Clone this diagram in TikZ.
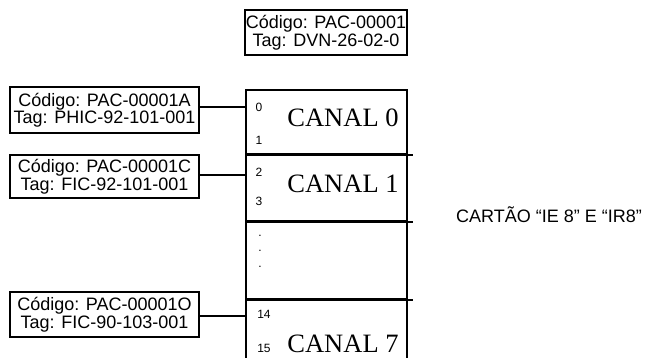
\documentclass[tikz,border=0pt]{standalone}
\usepackage{fontspec}
\setmainfont{Liberation Sans}
\newfontfamily\serifff{Liberation Serif}
\begin{document}
\begin{tikzpicture}[x=1pt,y=-1pt,
  tagbox/.style={draw,line width=2pt,inner sep=0pt,align=center,
    font=\fontsize{18}{17.5}\selectfont},
  cell/.style={draw,line width=2pt,inner sep=0pt,minimum width=161pt},
  canal/.style={font=\serifff\fontsize{26.5}{26.5}\selectfont,inner sep=0pt},
  num/.style={font=\fontsize{12}{12}\selectfont,inner sep=0pt},
  wire/.style={line width=2pt}]
\useasboundingbox (0,0) rectangle (649,358);
% top box
\node[tagbox,minimum width=162pt,minimum height=45pt] (top) at (326,32.5)
  {Código: PAC-00001\\Tag: DVN-26-02-0};
% cells
\node[cell,minimum height=64pt] (c0) at (326.5,122) {};
\node[cell,minimum height=67pt] (c1) at (326.5,187.5) {};
\node[cell,minimum height=78pt] (cd) at (326.5,260) {};
\node[cell,minimum height=70pt] (c7) at (326.5,334) {};
\draw[wire] (c0.south west) -- ([xshift=5pt]c0.south east);
\draw[wire] (c1.south west) -- ([xshift=5pt]c1.south east);
\draw[wire] (cd.south west) -- ([xshift=5pt]cd.south east);
% canal labels
\node[canal] (t0) at (343,118) {CANAL 0};
\node[canal] (t1) at (343,184) {CANAL 1};
\node[canal] (t7) at (343,344) {CANAL 7};
\node[num] (n0) at (259,107) {0};
\node[num] (n1) at (259,140) {1};
\node[num] (n2) at (259,172) {2};
\node[num] (n3) at (259,201) {3};
\node[num] (n14) at (264,314) {14};
\node[num] (n15) at (264,348) {15};
\node[num] (d1) at (260,236) {.};
\node[num] (d2) at (260,251) {.};
\node[num] (d3) at (260,267) {.};
% left boxes
\node[tagbox,minimum width=189pt,minimum height=46pt] (b1) at (104.5,110)
  {Código: PAC-00001A\\Tag: PHIC-92-101-001};
\node[tagbox,minimum width=189pt,minimum height=43pt] (b2) at (104.5,176.5)
  {Código: PAC-00001C\\Tag: FIC-92-101-001};
\node[tagbox,minimum width=189pt,minimum height=45pt] (b3) at (104.5,314.5)
  {Código: PAC-00001O\\Tag: FIC-90-103-001};
\draw[wire] ([yshift=3pt]b1.east) -- ([yshift=3pt]b1.east -| c0.west);
\draw[wire] ([yshift=1.5pt]b2.east) -- ([yshift=1.5pt]b2.east -| c1.west);
\draw[wire] ([yshift=-1.5pt]b3.east) -- ([yshift=-1.5pt]b3.east -| c7.west);
% card label
\node[inner sep=0pt,font=\fontsize{18}{18}\selectfont] (card) at (549,215)
  {CARTÃO “IE 8” E “IR8”};
\end{tikzpicture}
\end{document}
